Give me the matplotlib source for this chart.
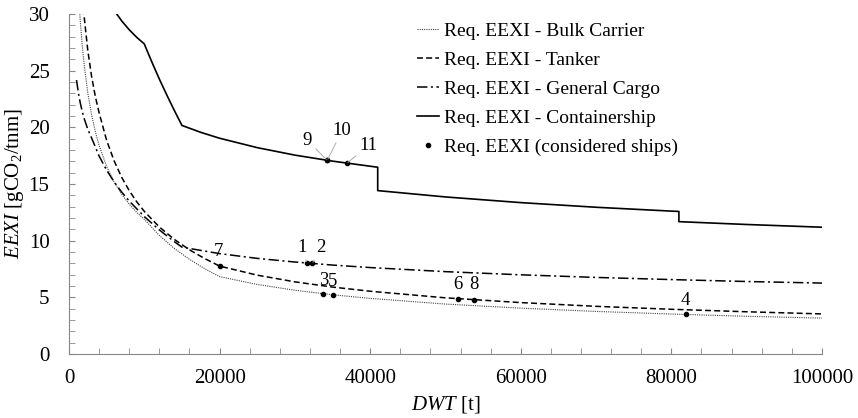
import numpy as np
import matplotlib
matplotlib.use("Agg")
import matplotlib.pyplot as plt

plt.rcParams['font.family'] = ['Liberation Serif', 'DejaVu Serif']
plt.rcParams['mathtext.fontset'] = 'custom'
plt.rcParams['mathtext.rm'] = 'Liberation Serif'
plt.rcParams['mathtext.it'] = 'Liberation Serif:italic'
plt.rcParams['lines.scale_dashes'] = False

# required EEXI curves (DWT in t, EEXI in gCO2/tnm)
bulk_dwt = [1400, 1500, 1750, 2000, 2500, 3000, 3500, 4000, 5000, 6000, 7000, 8000, 9000, 10000,
            12000, 14000, 16000, 18000, 20000, 25000, 30000, 35000, 40000, 50000, 60000, 70000,
            80000, 90000, 100000]
bulk_eexi = [30.37, 29.38, 27.30, 25.61, 23.03, 21.11, 19.61, 18.40, 16.55, 15.17, 14.09, 13.22, 12.50, 11.89,
             10.46, 9.31, 8.36, 7.54, 6.83, 6.14, 5.63, 5.23, 4.91, 4.41, 4.05, 3.76,
             3.53, 3.33, 3.17]

tanker_dwt = [1750, 2000, 2500, 3000, 3500, 4000, 5000, 6000, 7000, 8000, 9000, 10000, 12000, 14000,
              16000, 18000, 20000, 25000, 30000, 35000, 40000, 50000, 60000, 70000, 80000, 90000, 100000]
tanker_eexi = [31.87, 29.86, 26.78, 24.50, 22.72, 21.29, 18.85, 17.03, 15.59, 14.42, 13.43, 12.59, 11.21, 10.11,
               9.20, 8.43, 7.76, 6.96, 6.37, 5.91, 5.54, 4.96, 4.54, 4.21, 3.95, 3.73, 3.54]

gc_dwt = [1000, 1250, 1500, 1750, 2000, 2500, 3000, 4000, 5000, 6000, 7000, 8000, 10000, 12000, 14000,
          15000, 20000, 25000, 30000, 35000, 40000, 50000, 60000, 70000, 80000, 90000, 100000]
gc_eexi = [24.17, 23.04, 22.15, 21.42, 20.81, 19.83, 19.07, 17.47, 16.22, 15.18, 14.29, 13.50, 12.13, 10.95, 9.91,
           9.43, 8.86, 8.44, 8.12, 7.85, 7.63, 7.27, 6.99, 6.76, 6.57, 6.40, 6.26]

cont_dwt = [6000, 7000, 8000, 9000, 10000, 11000, 12000, 13000, 14000, 15000, 17500, 20000, 25000, 30000,
            35000, 41000, 41000, 50000, 60000, 70000, 80000, 81000, 81000, 90000, 100000]
cont_eexi = [30.32, 29.39, 28.61, 27.94, 27.36, 25.77, 24.26, 22.84, 21.48, 20.17, 19.56, 19.04, 18.21, 17.55,
             17.02, 16.48, 14.42, 13.86, 13.36, 12.95, 12.61, 12.58, 11.68, 11.43, 11.19]

# considered ships
ship_id = ['1', '2', '3', '4', '5', '6', '7', '8', '9', '10', '11']
ship_dwt = [31600, 32300, 33800, 81900, 35000, 51700, 20000, 53800, 34300, 34300, 36900]
ship_eexi = [8.03, 8.00, 5.32, 3.49, 5.23, 4.87, 7.76, 4.77, 17.09, 17.09, 16.83]

# label offsets in pixels, leader line or not
label_off = {'1': (-5, 16, True), '2': (9, 16, True), '3': (0, 13, False), '4': (0, 14, False),
             '5': (0, 13, False), '6': (0, 14, False), '7': (-1, 15, False), '8': (0, 15, False),
             '9': (-20, 20, True), '10': (15, 30, True), '11': (22, 18, True)}

fig, ax = plt.subplots(figsize=(8.58, 4.18), dpi=100)
fig.subplots_adjust(left=0.0804, right=0.958, bottom=0.153, top=0.9665)

ax.plot(bulk_dwt, bulk_eexi, color='#444444', lw=0.8, ls=(0, (0.8, 0.8)), label='Req. EEXI - Bulk Carrier')
ax.plot(tanker_dwt, tanker_eexi, color='black', lw=1.1, ls=(0, (4.3, 2.3)), label='Req. EEXI - Tanker')
ax.plot(gc_dwt, gc_eexi, color='black', lw=1.1, ls=(0, (7.5, 2.5, 1.5, 2.5)), label='Req. EEXI - General Cargo')
ax.plot(cont_dwt, cont_eexi, color='black', lw=1.2, ls='-', label='Req. EEXI - Containership')
ax.plot(ship_dwt, ship_eexi, 'o', color='black', ms=3, ls='none', label='Req. EEXI (considered ships)')

for sid, x, y in zip(ship_id, ship_dwt, ship_eexi):
    dx, dy, lead = label_off[sid]
    if lead:
        ax.annotate(sid, (x, y), xytext=(dx, dy), textcoords='offset pixels', ha='center', va='center',
                    fontsize=13.5, arrowprops=dict(arrowstyle='-', color='#aaaaaa', lw=0.7,
                                                   shrinkA=1, shrinkB=1))
    else:
        ax.annotate(sid, (x, y), xytext=(dx, dy), textcoords='offset pixels', ha='center', va='center',
                    fontsize=13.5)

ax.set_xlim(0, 100000)
ax.set_ylim(0, 30)
ax.set_xticks(np.arange(0, 100001, 20000))
ax.set_xticks(np.arange(0, 100001, 4000), minor=True)
ax.set_yticks(np.arange(0, 31, 5))
ax.set_yticks(np.arange(0, 31, 1), minor=True)

for side in ['top', 'right']:
    ax.spines[side].set_visible(False)
for side in ['left', 'bottom']:
    ax.spines[side].set_color('#888888')
ax.tick_params(which='both', direction='in', color='#888888', labelsize=15)
ax.tick_params(which='major', length=4)
ax.tick_params(which='minor', length=4)
ax.tick_params(axis='x', which='both', pad=11)
ax.tick_params(axis='y', which='both', pad=14)

ax.set_xlabel(r'$\mathit{DWT}$ [t]', fontsize=15, labelpad=4)
ax.set_ylabel(r'$\mathit{EEXI}$ [gCO$_2$/tnm]', fontsize=15)
ax.yaxis.set_label_coords(-0.057, 0.5)

ax.legend(loc='upper left', bbox_to_anchor=(0.462, 0.975), frameon=False, fontsize=14,
          handlelength=1.15, handletextpad=0.25, labelspacing=0.58, borderpad=0, borderaxespad=0)

fig.savefig('out.png', dpi=100)
